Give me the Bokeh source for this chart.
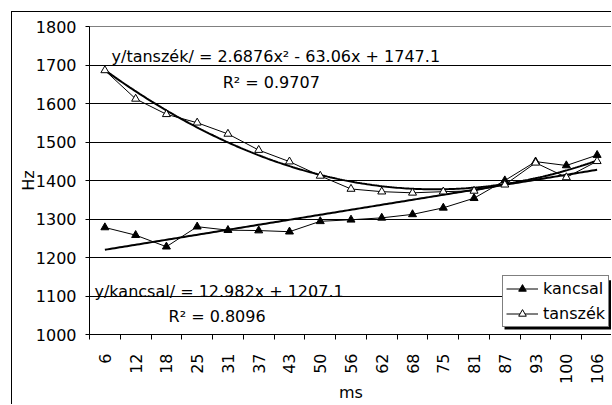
import numpy as np
from bokeh.plotting import figure
from bokeh.models import (Range1d, FixedTicker, Legend, LegendItem, Label,
                          BoxAnnotation, InlineStyleSheet)
from bokeh.embed import file_html
from bokeh.resources import INLINE

# ---- data ----
categories = ["6", "12", "18", "25", "31", "37", "43", "50", "56", "62",
              "68", "75", "81", "87", "93", "100", "106"]
kancsal = [1278, 1258, 1228, 1280, 1271, 1270, 1267, 1294, 1298, 1303,
           1312, 1329, 1354, 1400, 1449, 1439, 1466]
tanszek = [1686, 1612, 1572, 1550, 1521, 1479, 1449, 1412, 1378, 1371,
           1368, 1371, 1373, 1389, 1446, 1408, 1450]
y_ticks = [1000, 1100, 1200, 1300, 1400, 1500, 1600, 1700, 1800]
# trendline coefficients (as printed on the chart)
lin_k = (12.982, 1207.1)
poly_t = (2.6876, -63.06, 1747.1)

FONT = "DejaVu Sans"
FS = "16px"

x = list(range(1, len(categories) + 1))

p = figure(width=600, height=393, output_backend="svg", toolbar_location=None,
           x_range=Range1d(0.5, len(categories) + 0.5),
           y_range=Range1d(1000, 1800),
           min_border_left=77, min_border_top=14, min_border_right=0,
           min_border_bottom=67)
p.stylesheets = [InlineStyleSheet(css=":host { margin-left: 11px !important; "
                                      "margin-top: 11px !important; "
                                      "border-left: 1px solid black !important; "
                                      "border-top: 1px solid black !important; }")]
p.outline_line_color = "#808080"
p.background_fill_color = "white"
p.border_fill_color = "white"

# axes
xa = p.xaxis[0]
xa.ticker = FixedTicker(ticks=x, minor_ticks=[i + 0.5 for i in range(0, len(categories) + 1)])
xa.major_label_overrides = {i: c for i, c in zip(x, categories)}
xa.major_label_orientation = np.pi / 2
xa.major_tick_out = 0
xa.major_tick_in = 0
xa.minor_tick_out = 5
xa.minor_tick_in = 0
xa.minor_tick_line_color = "black"
xa.axis_line_color = "black"
xa.major_label_standoff = 14
xa.major_label_text_font = FONT
xa.major_label_text_font_size = FS
xa.major_label_text_color = "black"
xa.axis_label = "ms"
xa.axis_label_text_font = FONT
xa.axis_label_text_font_size = FS
xa.axis_label_text_font_style = "normal"
xa.axis_label_text_color = "black"
xa.axis_label_text_line_height = 1.0
xa.axis_label_standoff = -4

ya = p.yaxis[0]
ya.ticker = FixedTicker(ticks=y_ticks, minor_ticks=[])
ya.major_tick_out = 4
ya.major_tick_in = 0
ya.major_label_standoff = 9
ya.major_label_text_font = FONT
ya.major_label_text_font_size = FS
ya.major_label_text_color = "black"
ya.axis_line_color = "black"
ya.axis_label = "Hz"
ya.axis_label_text_font = FONT
ya.axis_label_text_font_size = FS
ya.axis_label_text_font_style = "normal"
ya.axis_label_text_color = "black"
ya.axis_label_text_line_height = 1.0
ya.axis_label_standoff = -5

p.xgrid.visible = False
p.ygrid.ticker = FixedTicker(ticks=y_ticks, minor_ticks=[])
p.ygrid.grid_line_color = "black"
p.ygrid.grid_line_width = 1

# trendlines
tx = np.linspace(1, len(categories), 200)
lk = lin_k[0] * tx + lin_k[1]
pt = poly_t[0] * tx ** 2 + poly_t[1] * tx + poly_t[2]
p.line(tx, lk, line_color="black", line_width=2)
p.line(tx, pt, line_color="black", line_width=2)

# data series
lk_r = p.line(x, kancsal, line_color="black", line_width=1)
sk_r = p.scatter(x, kancsal, marker="triangle", size=8, fill_color="black",
                 line_color="black")
lt_r = p.line(x, tanszek, line_color="black", line_width=1)
st_r = p.scatter(x, tanszek, marker="triangle", size=8, fill_color="white",
                 line_color="black")

# equation labels
for lx, ly, txt in [(1.216, 1721, "y/tanszék/ = 2.6876x² - 63.06x + 1747.1"),
                    (4.83, 1655, "R² = 0.9707"),
                    (0.663, 1112, "y/kancsal/ = 12.982x + 1207.1"),
                    (3.07, 1046, "R² = 0.8096")]:
    p.add_layout(Label(x=lx, y=ly, text=txt, text_font=FONT, text_font_size=FS,
                       text_color="black", text_baseline="alphabetic"))

# legend shadow
p.add_layout(BoxAnnotation(left=13.99, right=17.6, bottom=1012.8, top=1141.0,
                           fill_color="black", fill_alpha=1, line_color=None))

legend = Legend(items=[LegendItem(label="kancsal", renderers=[lk_r, sk_r]),
                       LegendItem(label="tanszék", renderers=[lt_r, st_r])],
                location=(413, 7), margin=0, padding=3, spacing=6,
                label_height=19, glyph_height=19, glyph_width=32,
                label_standoff=5, label_text_font=FONT,
                label_text_font_size=FS, label_text_color="black",
                border_line_color="black",
                border_line_width=1, background_fill_color="white",
                background_fill_alpha=1)
p.add_layout(legend)

open("out.html", "w").write(file_html(p, INLINE))
